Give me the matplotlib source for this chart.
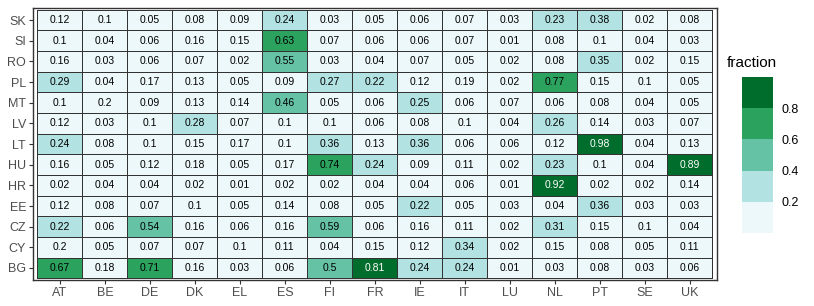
"""
Heatmap of fraction by country pair
"""

import numpy as np
from matplotlib import pyplot as plt
from matplotlib.colors import ListedColormap, BoundaryNorm
from matplotlib.colorbar import ColorbarBase

plt.rcParams['font.family'] = ['Liberation Sans', 'DejaVu Sans']

# columns and rows (rows listed top to bottom)
cols = ['AT', 'BE', 'DE', 'DK', 'EL', 'ES', 'FI', 'FR', 'IE', 'IT', 'LU', 'NL', 'PT', 'SE', 'UK']
rows = ['SK', 'SI', 'RO', 'PL', 'MT', 'LV', 'LT', 'HU', 'HR', 'EE', 'CZ', 'CY', 'BG']

SK = [0.12, 0.1, 0.05, 0.08, 0.09, 0.24, 0.03, 0.05, 0.06, 0.07, 0.03, 0.23, 0.38, 0.02, 0.08]
SI = [0.1, 0.04, 0.06, 0.16, 0.15, 0.63, 0.07, 0.06, 0.06, 0.07, 0.01, 0.08, 0.1, 0.04, 0.03]
RO = [0.16, 0.03, 0.06, 0.07, 0.02, 0.55, 0.03, 0.04, 0.07, 0.05, 0.02, 0.08, 0.35, 0.02, 0.15]
PL = [0.29, 0.04, 0.17, 0.13, 0.05, 0.09, 0.27, 0.22, 0.12, 0.19, 0.02, 0.77, 0.15, 0.1, 0.05]
MT = [0.1, 0.2, 0.09, 0.13, 0.14, 0.46, 0.05, 0.06, 0.25, 0.06, 0.07, 0.06, 0.08, 0.04, 0.05]
LV = [0.12, 0.03, 0.1, 0.28, 0.07, 0.1, 0.1, 0.06, 0.08, 0.1, 0.04, 0.26, 0.14, 0.03, 0.07]
LT = [0.24, 0.08, 0.1, 0.15, 0.17, 0.1, 0.36, 0.13, 0.36, 0.06, 0.06, 0.12, 0.98, 0.04, 0.13]
HU = [0.16, 0.05, 0.12, 0.18, 0.05, 0.17, 0.74, 0.24, 0.09, 0.11, 0.02, 0.23, 0.1, 0.04, 0.89]
HR = [0.02, 0.04, 0.04, 0.02, 0.01, 0.02, 0.02, 0.04, 0.04, 0.06, 0.01, 0.92, 0.02, 0.02, 0.14]
EE = [0.12, 0.08, 0.07, 0.1, 0.05, 0.14, 0.08, 0.05, 0.22, 0.05, 0.03, 0.04, 0.36, 0.03, 0.03]
CZ = [0.22, 0.06, 0.54, 0.16, 0.06, 0.16, 0.59, 0.06, 0.16, 0.11, 0.02, 0.31, 0.15, 0.1, 0.04]
CY = [0.2, 0.05, 0.07, 0.07, 0.1, 0.11, 0.04, 0.15, 0.12, 0.34, 0.02, 0.15, 0.08, 0.05, 0.11]
BG = [0.67, 0.18, 0.71, 0.16, 0.03, 0.06, 0.5, 0.81, 0.24, 0.24, 0.01, 0.03, 0.08, 0.03, 0.06]

vals = np.array([SK, SI, RO, PL, MT, LV, LT, HU, HR, EE, CZ, CY, BG])

# binned BuGn palette
breaks = [0.2, 0.4, 0.6, 0.8]
colors = ['#EDF8FB', '#B2E2E2', '#66C2A4', '#2CA25F', '#006D2C']
cmap = ListedColormap(colors)

# bin index (0.2 shown rounded falls in lowest bin)
idx = np.digitize(vals, breaks, right=True)

fig = plt.figure(figsize=(8.14, 3.06), dpi=100)
ax = fig.add_axes([0.0405, 0.0837, 0.840, 0.891])

nr, nc = vals.shape
ax.pcolormesh(np.arange(nc + 1) - 0.5, np.arange(nr + 1) - 0.5, idx,
              cmap=cmap, vmin=-0.5, vmax=4.5, edgecolor='#333333', linewidth=0.6)

for i in range(nr):
  for j in range(nc):
    tc = 'white' if idx[i, j] == 4 else 'black'
    ax.text(j, i, '{:g}'.format(vals[i, j]), ha='center', va='center',
            fontsize=7.5, color=tc)

ax.set_xlim(-0.6, nc - 0.4)
ax.set_ylim(nr - 0.4, -0.6)
ax.set_xticks(range(nc))
ax.set_xticklabels(cols)
ax.set_yticks(range(nr))
ax.set_yticklabels(rows)
ax.tick_params(length=3, width=0.8, color='#333333', labelcolor='#4D4D4D',
               labelsize=9, pad=2)
for s in ax.spines.values():
  s.set_color('#333333')
  s.set_linewidth(1.0)

# legend
cax = fig.add_axes([742 / 814, 1 - 233 / 306, 31 / 814, 156 / 306])
cb = ColorbarBase(cax, cmap=cmap, norm=BoundaryNorm([0] + breaks + [1], cmap.N),
                  boundaries=[0] + breaks + [1], ticks=breaks)
cb.outline.set_visible(False)
cb.minorticks_off()
cb.ax.tick_params(which='both', length=0, labelsize=9, labelcolor='black', pad=6)
cb.ax.set_yticklabels(['0.2', '0.4', '0.6', '0.8'])
fig.text(727 / 814, 1 - 63 / 306, 'fraction', fontsize=11, va='center', ha='left')

plt.savefig('out.png', dpi=100)
